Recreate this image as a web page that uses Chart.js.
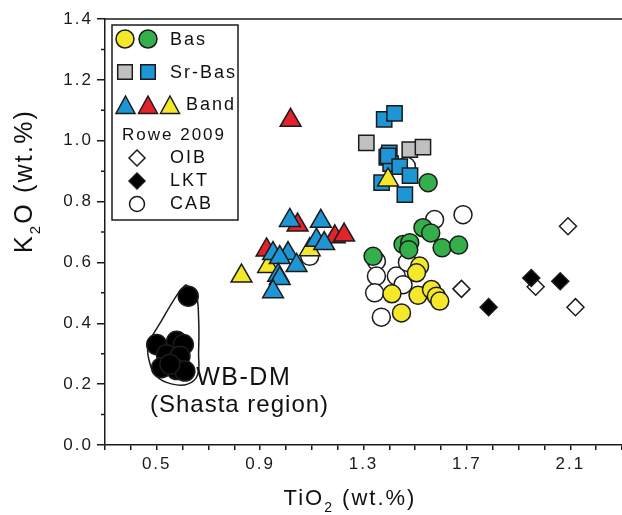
<!DOCTYPE html>
<html lang="en">
<head>
    <meta charset="UTF-8">
    <title>K2O vs TiO2</title>
    <script src="https://cdn.jsdelivr.net/npm/chart.js"></script>
    <style>
        body { margin: 0; background: #fff; }
    </style>
</head>
<body>
    <canvas id="plot" width="622" height="515"></canvas>
    <script>
        // --- data (TiO2 wt.%, K2O wt.%) ---
        const basYellowX = [1.517, 1.505, 1.410, 1.511, 1.563, 1.582, 1.595, 1.447];
        const basYellowY = [0.588, 0.566, 0.497, 0.492, 0.511, 0.489, 0.473, 0.434];
        const basGreenX = [1.530, 1.560, 1.453, 1.479, 1.475, 1.604, 1.668, 1.337, 1.550];
        const basGreenY = [0.714, 0.697, 0.659, 0.665, 0.642, 0.648, 0.657, 0.620, 0.862];

        const srBasGrayX = [1.311, 1.479, 1.530];
        const srBasGrayY = [0.993, 0.971, 0.979];
        const srBasBlueX = [1.380, 1.420, 1.400, 1.390, 1.405, 1.395, 1.440, 1.480, 1.370, 1.460];
        const srBasBlueY = [1.070, 1.090, 0.960, 0.945, 0.925, 0.950, 0.915, 0.885, 0.862, 0.823];

        const bandBlueX = [1.015, 1.135, 1.118, 1.148, 0.950, 1.008, 0.976, 1.041, 0.970, 0.976, 0.950];
        const bandBlueY = [0.738, 0.735, 0.673, 0.662, 0.629, 0.629, 0.616, 0.590, 0.558, 0.547, 0.504];
        const bandRedX = [1.018, 1.045, 1.189, 1.225, 0.925];
        const bandRedY = [1.067, 0.723, 0.684, 0.690, 0.641];
        const bandYellowX = [1.395, 1.092, 0.931, 0.828];
        const bandYellowY = [0.871, 0.642, 0.587, 0.555];

        // Rowe 2009
        const oibX = [2.091, 1.966, 2.120, 1.679];
        const oibY = [0.719, 0.520, 0.453, 0.513];
        const lktX = [1.949, 2.061, 1.784];
        const lktY = [0.549, 0.538, 0.453];
        const cabX = [1.575, 1.685, 1.350, 1.350, 1.343, 1.427, 1.453, 1.369, 1.470, 1.092, 1.466];
        const cabY = [0.741, 0.757, 0.604, 0.555, 0.500, 0.555, 0.527, 0.420, 0.600, 0.620, 0.916];

        // WB-DM (Shasta region) and its outline
        const wbdmX = [0.622, 0.500, 0.577, 0.603, 0.538, 0.590, 0.519, 0.577, 0.609, 0.551];
        const wbdmY = [0.489, 0.330, 0.341, 0.330, 0.297, 0.292, 0.254, 0.248, 0.243, 0.265];
        const hullX = [0.612, 0.650, 0.662, 0.662, 0.658, 0.620, 0.560, 0.500, 0.470, 0.468, 0.520, 0.580, 0.612];
        const hullY = [0.527, 0.500, 0.420, 0.300, 0.230, 0.200, 0.200, 0.225, 0.280, 0.330, 0.410, 0.495, 0.527];

        // axis ticks
        const xTickLabels = [0.5, 0.9, 1.3, 1.7, 2.1];
        const yTickLabels = [0.0, 0.2, 0.4, 0.6, 0.8, 1.0, 1.2, 1.4];

        const INK = '#1b1b1b';
        const FONT = "'Liberation Sans', Arial, Helvetica, sans-serif";
        const YELLOW = '#f5e82a';
        const GREEN = '#34b04b';
        const BLUE = '#1e95d5';
        const GRAY = '#c0c0c0';
        const RED = '#e2232b';

        function pts(xs, ys) {
            return xs.map((x, i) => ({ x: x, y: ys[i] }));
        }

        function marker(label, xs, ys, style, color, radius, order) {
            return {
                label: label,
                data: pts(xs, ys),
                pointStyle: style,
                pointRadius: radius,
                pointBackgroundColor: color,
                pointBorderColor: INK,
                pointBorderWidth: 1.5,
                order: order
            };
        }

        // simple marker shapes for the legend box
        function drawMark(ctx, style, x, y, r, fill) {
            ctx.beginPath();
            if (style === 'circle') {
                ctx.arc(x, y, r, 0, Math.PI * 2);
            } else if (style === 'rect') {
                ctx.rect(x - r, y - r, 2 * r, 2 * r);
            } else if (style === 'triangle') {
                ctx.moveTo(x, y - r);
                ctx.lineTo(x + r * 0.95, y + r * 0.75);
                ctx.lineTo(x - r * 0.95, y + r * 0.75);
                ctx.closePath();
            } else if (style === 'diamond') {
                ctx.moveTo(x, y - r);
                ctx.lineTo(x + r, y);
                ctx.lineTo(x, y + r);
                ctx.lineTo(x - r, y);
                ctx.closePath();
            }
            ctx.fillStyle = fill;
            ctx.fill();
            ctx.lineWidth = 1.5;
            ctx.strokeStyle = INK;
            ctx.stroke();
        }

        // draws text with a lowered, smaller "2"
        function drawSubText(ctx, parts, x, y, size, subSize, spacing) {
            ctx.letterSpacing = spacing + 'px';
            let total = 0;
            parts.forEach(p => {
                ctx.font = (p.sub ? subSize : size) + 'px ' + FONT;
                p.w = ctx.measureText(p.t).width;
                total += p.w;
            });
            let cx = x - total / 2;
            ctx.textAlign = 'left';
            ctx.textBaseline = 'alphabetic';
            parts.forEach(p => {
                ctx.font = (p.sub ? subSize : size) + 'px ' + FONT;
                ctx.fillText(p.t, cx, y + (p.sub ? size * 0.33 : 0));
                cx += p.w;
            });
        }

        const frame = {
            id: 'frame',
            beforeDraw(chart) {
                chart.ctx.letterSpacing = '2px';
            },
            afterDraw(chart) {
                const ctx = chart.ctx;
                const a = chart.chartArea;
                const xs = chart.scales.x, ys = chart.scales.y;
                ctx.save();
                ctx.strokeStyle = INK;
                ctx.lineWidth = 1.5;
                // top border
                ctx.beginPath();
                ctx.moveTo(a.left, a.top);
                ctx.lineTo(a.right, a.top);
                ctx.stroke();
                // minor y ticks
                ctx.beginPath();
                for (let v = 0.1; v < 1.4; v += 0.2) {
                    const py = ys.getPixelForValue(v);
                    ctx.moveTo(a.left - 4, py);
                    ctx.lineTo(a.left, py);
                }
                ctx.stroke();

                // legend box
                ctx.strokeRect(112, 25, 126, 195);
                drawMark(ctx, 'circle', 125, 39, 9, YELLOW);
                drawMark(ctx, 'circle', 148, 39, 9, GREEN);
                drawMark(ctx, 'rect', 125, 72, 7.3, GRAY);
                drawMark(ctx, 'rect', 148, 72, 7.3, BLUE);
                drawMark(ctx, 'triangle', 125.5, 106, 10, BLUE);
                drawMark(ctx, 'triangle', 148, 106, 10, RED);
                drawMark(ctx, 'triangle', 170, 106, 10, YELLOW);
                drawMark(ctx, 'diamond', 137, 158, 8, '#fff');
                drawMark(ctx, 'diamond', 137, 181, 8, '#000');
                drawMark(ctx, 'circle', 137, 204, 7.5, '#fff');

                ctx.fillStyle = '#111';
                ctx.letterSpacing = '2px';
                ctx.textAlign = 'left';
                ctx.textBaseline = 'middle';
                ctx.font = '18px ' + FONT;
                ctx.fillText('Bas', 170, 40);
                ctx.fillText('Sr-Bas', 170, 73);
                ctx.fillText('Band', 186, 105);
                ctx.fillText('OIB', 170, 158);
                ctx.fillText('LKT', 170, 181);
                ctx.fillText('CAB', 170, 204);
                ctx.font = '17px ' + FONT;
                ctx.fillText('Rowe 2009', 122, 135);

                // WB-DM label
                ctx.textBaseline = 'alphabetic';
                ctx.letterSpacing = '1.5px';
                ctx.font = '25px ' + FONT;
                ctx.fillText('WB-DM', xs.getPixelForValue(0.653), ys.getPixelForValue(0.197));
                ctx.letterSpacing = '1px';
                ctx.font = '24px ' + FONT;
                ctx.fillText('(Shasta region)', xs.getPixelForValue(0.474), ys.getPixelForValue(0.110));

                // axis titles
                drawSubText(ctx, [{ t: 'TiO' }, { t: '2', sub: true }, { t: ' (wt.%)' }], 350, 505, 22, 14, 2);
                ctx.translate(32, 181);
                ctx.rotate(-Math.PI / 2);
                drawSubText(ctx, [{ t: 'K' }, { t: '2', sub: true }, { t: 'O (wt.%)' }], 0, 0, 25, 15, 2.2);
                ctx.restore();
            }
        };

        const tickFont = { family: FONT, size: 17 };

        new Chart(document.getElementById('plot').getContext('2d'), {
            type: 'scatter',
            data: {
                datasets: [
                    {
                        label: 'WB-DM field',
                        type: 'line',
                        data: pts(hullX, hullY),
                        showLine: true,
                        tension: 0.4,
                        pointRadius: 0,
                        borderColor: INK,
                        borderWidth: 1.5,
                        fill: false,
                        order: 12
                    },
                    marker('CAB', cabX, cabY, 'circle', '#fff', 9, 11),
                    marker('OIB', oibX, oibY, 'rectRot', '#fff', 8.5, 10),
                    marker('LKT', lktX, lktY, 'rectRot', '#000', 8.5, 9),
                    marker('WB-DM', wbdmX, wbdmY, 'circle', '#000', 10, 8),
                    marker('Sr-Bas gray', srBasGrayX, srBasGrayY, 'rect', GRAY, 10.8, 7),
                    marker('Sr-Bas blue', srBasBlueX, srBasBlueY, 'rect', BLUE, 10.8, 6),
                    marker('Bas green', basGreenX, basGreenY, 'circle', GREEN, 9, 5),
                    marker('Bas yellow', basYellowX, basYellowY, 'circle', YELLOW, 9, 4),
                    marker('Band red', bandRedX, bandRedY, 'triangle', RED, 12, 3),
                    marker('Band yellow', bandYellowX, bandYellowY, 'triangle', YELLOW, 12, 2),
                    marker('Band blue', bandBlueX, bandBlueY, 'triangle', BLUE, 12, 1)
                ]
            },
            options: {
                responsive: false,
                animation: false,
                events: [],
                layout: { autoPadding: false, padding: { top: 19, left: 0, right: 0, bottom: 0 } },
                plugins: {
                    legend: { display: false },
                    tooltip: { enabled: false }
                },
                scales: {
                    x: {
                        type: 'linear',
                        position: 'bottom',
                        min: 0.3,
                        max: 2.3,
                        afterBuildTicks: s => {
                            const t = [];
                            for (let i = 3; i <= 23; i++) t.push({ value: i / 10 });
                            s.ticks = t;
                        },
                        afterFit: s => {
                            s.height = 70;
                            s.paddingLeft = 0;
                            s.paddingRight = 0;
                        },
                        grid: { drawOnChartArea: false, color: INK, lineWidth: 1.5, tickLength: 5 },
                        border: { color: INK, width: 1.5 },
                        ticks: {
                            font: tickFont,
                            color: '#1a1a1a',
                            padding: 4,
                            maxRotation: 0,
                            autoSkip: false,
                            callback: v => xTickLabels.some(m => Math.abs(m - v) < 1e-6) ? v.toFixed(1) : ''
                        }
                    },
                    y: {
                        type: 'linear',
                        min: 0,
                        max: 1.4,
                        afterBuildTicks: s => { s.ticks = yTickLabels.map(v => ({ value: v })); },
                        afterFit: s => {
                            s.width = 105;
                            s.paddingTop = 0;
                            s.paddingBottom = 0;
                        },
                        grid: { drawOnChartArea: false, color: INK, lineWidth: 1.5, tickLength: 8 },
                        border: { color: INK, width: 1.5 },
                        ticks: {
                            font: tickFont,
                            color: '#1a1a1a',
                            padding: 4,
                            autoSkip: false,
                            callback: v => v.toFixed(1)
                        }
                    }
                }
            },
            plugins: [frame]
        });
    </script>
</body>
</html>
